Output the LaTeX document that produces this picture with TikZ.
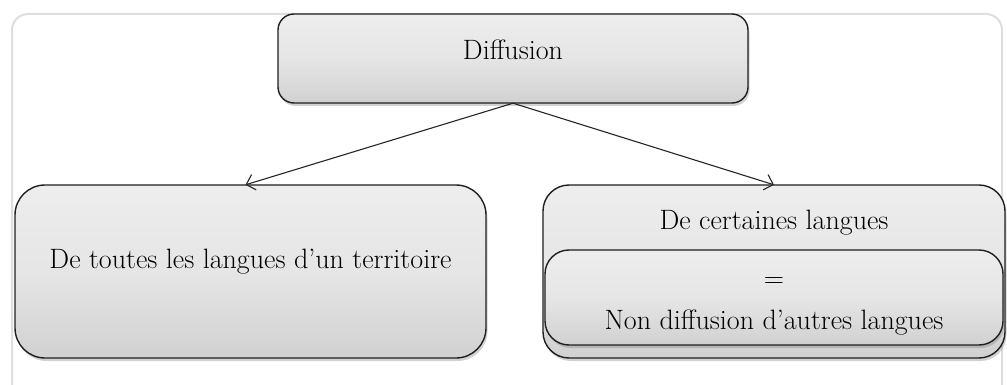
\documentclass[tikz,border=0pt]{standalone}
\usetikzlibrary{arrows.meta,shadows}
\begin{document}
\begin{tikzpicture}[x=1pt,y=-1pt,
  boxst/.style={draw=black!88, line width=1.4pt, rounded corners=#1, top color=black!7, bottom color=black!18, middle color=black!10,
     drop shadow={opacity=0.35, shadow xshift=1.5pt, shadow yshift=-3pt}},
  boxst/.default=20pt,
  txt/.style={font=\fontsize{28}{32}\selectfont, inner sep=0pt},
  arr/.style={line width=1.1pt, black!85, -{Straight Barb[length=8pt,width=16pt,line width=1.1pt]}}]
\useasboundingbox (0,0) rectangle (1007,385);
\fill[white] (0,0) rectangle (1007,385);
% frame
\draw[black!13, line width=2pt, rounded corners=16pt] (12,390) -- (12,14) -- (1002,14) -- (1002,390);
% boxes
\path[boxst=16pt] (278,14) rectangle (748,103);
\node[inner sep=0pt, minimum width=470pt, minimum height=89pt] (top) at (513,58.5) {};
\path[boxst=30pt] (15,185) rectangle (486,358);
\node[inner sep=0pt, minimum width=471pt, minimum height=173pt] (left) at (250.5,271.5) {};
\path[boxst=26pt] (543,185) rectangle (1005,358);
\node[inner sep=0pt, minimum width=462pt, minimum height=173pt] (right) at (774,271.5) {};
\path[boxst=24pt] (545,250) rectangle (1003,345);
\node[inner sep=0pt, minimum width=458pt, minimum height=95pt] (inner) at (774,297.5) {};
% texts
\node[txt] (t1) at (513,50) {Diffusion};
\node[txt] (t2) at (250.5,262) {De toutes les langues d’un territoire};
\node[txt] (t3) at (774,223) {De certaines langues};
\node[txt] (t4) at (774,283) {=};
\node[txt] (t5) at (774,323) {Non diffusion d’autres langues};
% arrows
\draw[arr] (top.south) -- ([xshift=-5pt]left.north);
\draw[arr] (top.south) -- (right.north);
\end{tikzpicture}
\end{document}
